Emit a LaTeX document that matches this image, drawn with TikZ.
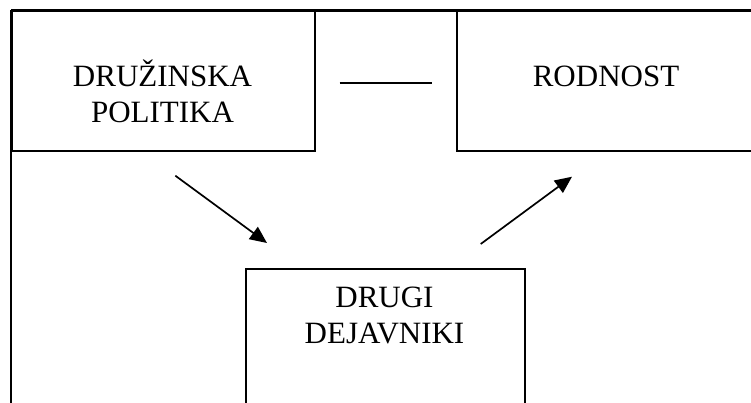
\documentclass[tikz,border=0pt]{standalone}
\usepackage{fontspec}
\setmainfont{Liberation Serif}
\usetikzlibrary{arrows.meta,calc}
\tikzset{
  box/.style={draw, rectangle, inner sep=0pt, anchor=north west},
  lbl/.style={align=center, anchor=base, inner sep=0pt, font=\fontsize{31}{36}\selectfont},
  arr/.style={-{Triangle[length=17pt,width=15pt]}},
}
\begin{document}
\begin{tikzpicture}[x=1pt,y=-1pt,line width=1.7pt]
\useasboundingbox (0,0) rectangle (751,403);
\clip (0,0) rectangle (751,403);
\node[box, minimum width=303pt, minimum height=139.5pt] (lbox) at (11,10.5) {};
\node[box, minimum width=310pt, minimum height=139.5pt] (rbox) at (456,10.5) {};
\node[box, minimum width=279pt, minimum height=160pt] (bbox) at (245,268) {};
\coordinate (ftop) at (770,10.5);
\coordinate (fbot) at (11,420);
\draw (fbot) -- (lbox.north west);
\draw[line width=2.2pt] (lbox.north west) -- (ftop);
\node[lbl] (ltext) at (162.5,123) {DRUŽINSKA\\POLITIKA};
\node[lbl] (rtext) at (606,87) {RODNOST};
\node[lbl] (btext) at (384.5,343) {DRUGI\\DEJAVNIKI};
\draw ([xshift=24pt,yshift=-2pt]lbox.east) -- ([xshift=-24pt,yshift=-2pt]rbox.west);
\draw[arr] ($(lbox.south)+(12,24)$) -- ($(bbox.north west)+(22,-25)$);
\draw[arr] ($(bbox.north east)+(-45,-24)$) -- ($(rbox.south west)+(116,25)$);
\end{tikzpicture}
\end{document}
